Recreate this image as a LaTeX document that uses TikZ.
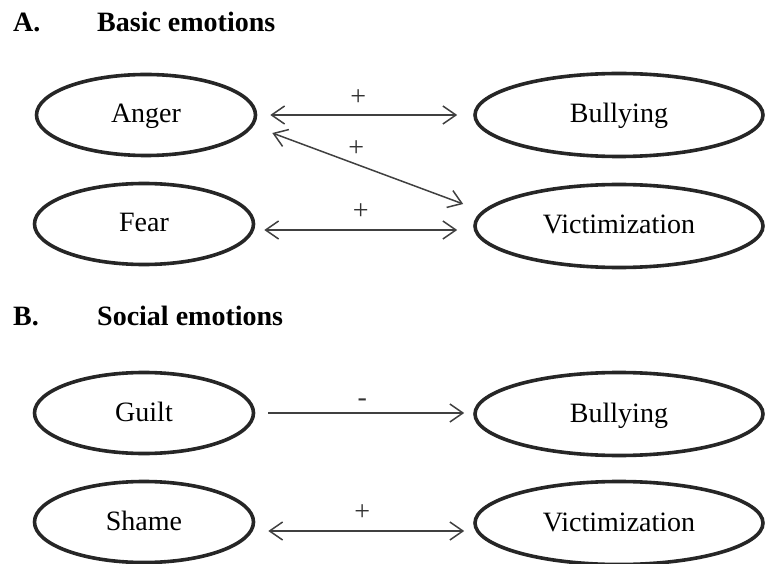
\documentclass[tikz,border=0pt]{standalone}
\usepackage{fontspec}
\setmainfont{Liberation Serif}
\usetikzlibrary{shapes.geometric,arrows.meta}
\begin{document}
\begin{tikzpicture}[x=1pt,y=-1pt,
  >={Straight Barb[length=13pt,width=18pt,line width=1.5pt]},
  emo/.style={ellipse,draw=black!85,line width=3.6pt,inner sep=0pt,
    minimum width=219pt,minimum height=81pt,text height=20pt,text depth=4pt,
    font=\fontsize{28}{30}\selectfont},
  outcome/.style={emo,minimum width=288pt,minimum height=83pt},
  head/.style={anchor=base west,inner sep=0pt,font=\fontsize{28}{30}\selectfont\bfseries},
  link/.style={draw=black!75,line width=1.5pt},
  sign/.style={anchor=base,inner sep=0pt,font=\fontsize{28}{30}\selectfont,text=black!80}]
\useasboundingbox (0,0) rectangle (766,564);
% headings
\node[head] (ha) at (13,32) {A.};
\node[head] (hat) at (97,32) {Basic emotions};
\node[head] (hb) at (13,325) {B.};
\node[head] (hbt) at (97,325) {Social emotions};
% panel A
\node[emo] (anger) at (146,115) {Anger};
\node[emo] (fear) at (144,224) {Fear};
\node[outcome] (bully1) at (619,115) {Bullying};
\node[outcome] (vict1) at (619,226) {Victimization};
% panel B
\node[emo] (guilt) at (144,413) {Guilt};
\node[emo] (shame) at (144,522) {Shame};
\node[outcome] (bully2) at (619,414) {Bullying};
\node[outcome] (vict2) at (619,523) {Victimization};
% arrows A
\draw[link,<->] ([xshift=13pt]anger.east) -- ([xshift=-16pt]bully1.west)
  node[sign,pos=0.47,yshift=9pt] (p1) {+};
\draw[link,<->] ([xshift=15pt,yshift=-18pt]anger.east) -- ([xshift=-10pt,yshift=22pt]vict1.west)
  node[sign,pos=0.45,xshift=-2pt,yshift=8pt] (p2) {+};
\draw[link,<->] ([xshift=9pt,yshift=-6pt]fear.east) -- ([xshift=-16pt,yshift=-4pt]vict1.west)
  node[sign,pos=0.5,yshift=10pt] (p3) {+};
% arrows B
\draw[link,->] ([xshift=13pt]guilt.east) -- ([xshift=-9pt,yshift=1pt]bully2.west)
  node[sign,pos=0.48,yshift=7pt] (p4) {-};
\draw[link,<->] ([xshift=13pt,yshift=-9pt]shame.east) -- ([xshift=-9pt,yshift=-8pt]vict2.west)
  node[sign,pos=0.48,yshift=11pt] (p5) {+};
\end{tikzpicture}
\end{document}
